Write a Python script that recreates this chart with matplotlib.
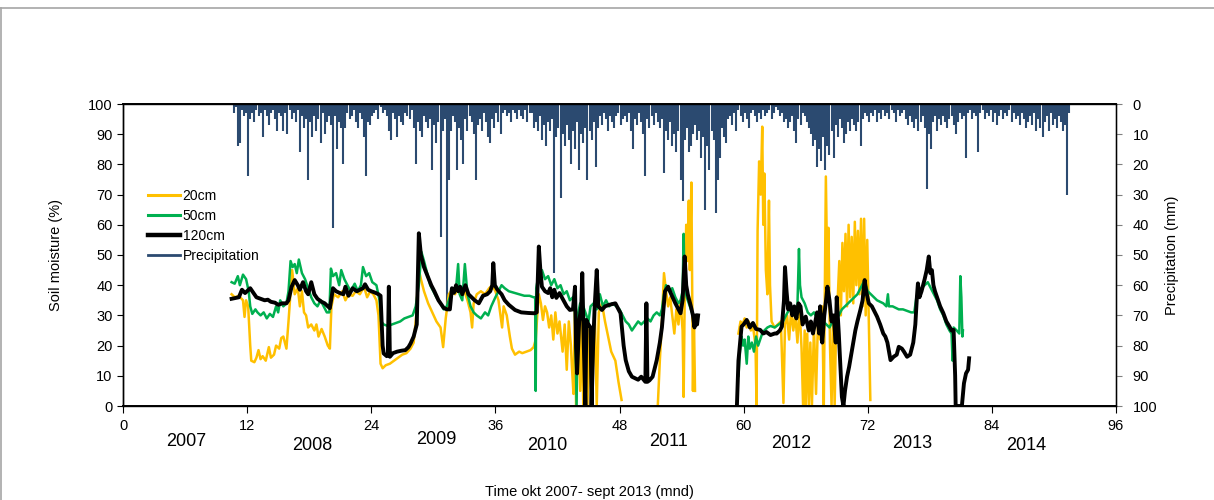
import numpy as np
import matplotlib
matplotlib.use("Agg")
import matplotlib.pyplot as plt
from matplotlib.lines import Line2D

plt.rcParams['font.family'] = ['Liberation Sans', 'DejaVu Sans']

nan = np.nan

# soil moisture (%), (month, value)
sm20 = [(10.5, 37), (10.8, 36), (11.2, 36.5), (11.6, 35), (11.75, 29.5), (11.9, 35), (12.1, 33),
        (12.3, 20), (12.4, 15), (12.7, 14.5), (12.9, 16), (13.1, 18.5), (13.3, 15.5), (13.5, 16.5),
        (13.8, 15), (14.1, 19.5), (14.3, 16), (14.6, 17), (14.8, 20), (15.1, 19), (15.3, 22.5),
        (15.5, 23), (15.8, 19), (16.0, 28), (16.2, 38), (16.35, 45), (16.6, 37), (16.9, 39),
        (17.1, 33), (17.3, 38), (17.5, 31), (17.7, 30), (17.9, 26), (18.2, 27), (18.5, 25),
        (18.7, 27), (18.9, 23), (19.2, 25.5), (19.5, 23), (19.8, 20), (20.0, 19), (20.15, 33),
        (20.4, 37), (20.8, 36), (21.2, 38), (21.5, 35), (21.8, 37), (22.2, 36.5), (22.5, 38),
        (22.9, 37), (23.3, 39.5), (23.6, 36), (23.9, 38), (24.2, 37), (24.5, 35), (24.7, 30),
        (24.9, 14), (25.1, 12.5), (25.4, 13.5), (25.8, 14), (26.2, 15), (26.6, 16), (27.0, 17),
        (27.4, 17.5), (27.8, 19), (28.1, 21), (28.35, 30), (28.55, 46), (28.8, 42), (29.1, 38),
        (29.5, 34), (29.9, 31), (30.3, 28), (30.7, 26), (30.95, 19.5), (31.2, 29), (31.5, 37),
        (31.8, 38.5), (32.1, 37), (32.4, 39), (32.7, 36), (33.0, 38), (33.3, 35), (33.6, 31),
        (33.75, 26), (33.9, 34), (34.2, 37), (34.6, 38), (35.0, 37), (35.4, 39), (35.7, 40),
        (36.0, 38), (36.3, 35), (36.5, 30), (36.65, 26), (36.8, 33), (37.1, 30), (37.4, 23),
        (37.6, 19), (37.9, 17), (38.3, 18), (38.6, 17.5), (39.0, 18), (39.4, 18.5), (39.7, 19.5),
        (39.9, 22), (40.05, 30), (40.2, 37), (40.4, 34), (40.6, 28.5), (40.8, 33), (41.0, 31),
        (41.2, 26), (41.4, 30), (41.6, 22), (41.8, 31), (42.0, 24), (42.2, 28), (42.5, 18),
        (42.7, 27), (42.9, 12), (43.1, 28), (43.3, 20), (43.4, 13), (43.55, 4), (43.7, 34),
        (43.8, 0), (44.0, 27), (44.2, 5), (44.35, 32), (44.5, 0), (44.7, 28), (44.9, 0),
        (45.1, 26), (45.3, 0), (45.6, 33), (45.8, 0), (46.0, 31), (46.3, 34), (46.6, 28),
        (46.9, 23), (47.2, 18), (47.6, 15), (47.9, 8), (48.1, 4), (48.2, 2), (48.3, nan),
        (51.7, 0), (51.9, 15), (52.1, 28), (52.3, 44), (52.5, 38), (52.7, 33), (52.9, 36),
        (53.1, 30), (53.3, 24), (53.5, 32), (53.7, 27), (53.9, 35), (54.1, 25), (54.2, 3),
        (54.3, 35), (54.45, 60), (54.55, 48), (54.7, 68), (54.8, 45), (54.95, 74), (55.05, 30),
        (55.1, 5), (55.2, 28), (55.3, 5), (55.4, nan),
        (59.5, 24), (59.7, 28), (59.9, 27), (60.1, 29), (60.3, 26), (60.5, 28), (60.7, 25),
        (60.9, 26.5), (61.15, 20), (61.25, 0), (61.35, 58), (61.5, 81), (61.65, 70), (61.8, 92.5),
        (61.9, 60), (62.0, 77), (62.15, 45), (62.3, 37), (62.45, 68), (62.55, 40), (62.7, 28),
        (63.0, 26), (63.3, 27), (63.6, 28), (63.85, 1), (64.0, 27), (64.2, 30), (64.4, 22),
        (64.6, 32), (64.8, 25), (65.0, 30), (65.2, 21), (65.4, 33), (65.6, 19), (65.75, 0),
        (65.9, 25), (66.0, 0), (66.15, 24), (66.3, 0), (66.45, 21), (66.6, 0), (66.8, 26),
        (67.0, 4), (67.2, 30), (67.4, 22), (67.6, 33), (67.75, 0), (67.95, 76), (68.1, 40),
        (68.2, 59), (68.35, 20), (68.5, 0), (68.65, 30), (68.8, 0), (68.95, 29), (69.1, 36),
        (69.25, 48), (69.4, 30), (69.55, 54), (69.7, 38), (69.85, 57), (70.0, 33), (70.15, 60),
        (70.3, 36), (70.45, 56), (70.6, 34), (70.75, 61), (70.9, 40), (71.05, 58), (71.2, 37),
        (71.35, 62), (71.5, 33), (71.65, 62), (71.8, 30), (71.95, 55), (72.1, 28), (72.25, 2)]

sm50 = [(10.5, 41), (10.8, 40.5), (11.1, 43), (11.3, 40), (11.6, 43.5), (11.9, 42), (12.15, 38),
        (12.3, 33), (12.5, 30.5), (12.8, 32), (13.0, 31), (13.3, 30), (13.6, 31), (13.9, 29),
        (14.2, 30.5), (14.5, 29.5), (14.8, 33), (15.0, 31), (15.2, 35), (15.5, 33), (15.8, 34),
        (16.0, 38), (16.2, 48), (16.4, 46), (16.6, 47), (16.8, 44), (17.0, 48.5), (17.3, 44),
        (17.6, 42), (17.9, 39), (18.2, 36), (18.5, 34), (18.8, 33), (19.1, 35), (19.4, 33),
        (19.7, 31), (19.95, 31), (20.1, 45.5), (20.3, 43), (20.6, 44), (20.9, 40), (21.1, 45),
        (21.4, 42), (21.7, 40), (22.0, 38), (22.4, 40.5), (22.7, 38), (23.0, 40), (23.2, 46),
        (23.5, 43), (23.8, 44), (24.1, 41), (24.5, 40), (24.8, 35), (24.95, 28), (25.2, 27),
        (25.6, 26.5), (26.0, 27), (26.4, 27.5), (26.8, 28), (27.2, 29), (27.6, 29.5), (28.0, 30),
        (28.3, 33), (28.6, 40), (28.85, 51), (29.1, 48), (29.4, 44), (29.7, 40), (30.0, 38),
        (30.3, 36), (30.7, 34), (31.0, 32), (31.3, 33), (31.6, 36), (31.9, 38), (32.2, 39),
        (32.4, 47), (32.55, 37), (32.8, 35), (33.05, 47), (33.3, 37), (33.6, 33), (33.9, 31),
        (34.2, 30), (34.6, 29), (35.0, 31), (35.3, 30), (35.6, 33), (36.0, 36), (36.3, 38),
        (36.6, 40), (36.9, 39), (37.3, 38), (37.8, 37.5), (38.3, 37), (38.8, 36.5), (39.3, 36.5),
        (39.7, 36), (39.85, 36), (39.9, 5), (39.95, 39), (40.2, 44), (40.5, 45), (40.8, 42),
        (41.1, 43), (41.4, 40), (41.7, 42), (42.0, 39), (42.3, 40), (42.6, 37), (42.9, 38),
        (43.2, 35), (43.5, 36), (43.7, 31), (43.85, 0), (43.95, 30), (44.2, 34), (44.5, 33),
        (44.8, 30), (45.0, 28), (45.2, 33), (45.5, 34), (45.8, 32), (46.1, 37), (46.4, 33),
        (46.7, 35), (47.0, 33), (47.3, 34), (47.7, 33), (48.0, 32), (48.3, 30), (48.6, 28),
        (48.9, 27), (49.2, 25), (49.5, 26.5), (49.8, 28), (50.1, 27), (50.4, 28), (50.7, 29),
        (51.0, 28), (51.3, 30), (51.6, 31), (51.9, 30), (52.1, 32), (52.3, 37), (52.5, 40),
        (52.8, 38), (53.1, 39), (53.4, 36), (53.7, 34), (53.9, 35), (54.1, 38), (54.2, 57),
        (54.3, 39), (54.5, 36), (54.8, 33), (55.0, 31), (55.2, 29), (55.3, nan),
        (59.5, 10), (59.65, 18), (59.8, 23), (59.95, 20), (60.1, 22), (60.3, 14), (60.45, 23),
        (60.6, 19), (60.8, 21), (61.0, 18), (61.2, 23), (61.4, 20), (61.6, 22), (61.8, 24),
        (62.0, 25), (62.3, 26), (62.6, 26.5), (63.0, 26), (63.4, 27), (63.8, 28), (64.1, 30),
        (64.4, 32), (64.7, 31), (65.0, 30), (65.2, 33), (65.35, 52), (65.45, 40), (65.6, 36),
        (65.9, 34), (66.2, 31), (66.5, 30), (66.8, 31), (67.1, 29), (67.4, 30), (67.7, 28),
        (68.0, 27), (68.3, 26), (68.6, 28), (68.9, 29), (69.2, 30), (69.5, 32), (69.8, 33),
        (70.1, 34), (70.4, 35), (70.7, 36), (71.0, 37), (71.3, 39), (71.6, 41), (71.8, 40),
        (72.0, 38), (72.3, 37), (72.6, 36), (72.9, 35), (73.2, 34.5), (73.5, 34), (73.8, 33),
        (73.95, 37), (74.05, 33), (74.4, 33), (74.7, 32.5), (75.0, 32), (75.4, 32), (75.8, 31.5),
        (76.2, 31), (76.5, 31), (76.7, 36), (76.9, 38), (77.2, 39), (77.5, 40), (77.8, 41),
        (78.1, 39), (78.4, 37), (78.7, 35), (79.0, 32), (79.3, 30), (79.6, 27), (79.9, 25),
        (80.1, 24), (80.2, 15), (80.3, 26), (80.6, 25), (80.85, 24), (80.95, 43), (81.05, 36),
        (81.15, 23), (81.2, 25)]

sm120 = [(10.5, 35.5), (10.8, 35.7), (11.2, 36), (11.5, 38.5), (11.8, 37.4), (12.3, 39), (12.6, 37.5),
         (12.9, 36), (13.3, 35.5), (13.7, 35), (14.0, 35.2), (14.3, 34.5), (14.7, 34.2), (15.0, 33.5),
         (15.4, 34), (15.8, 34), (16.0, 35), (16.3, 39.5), (16.6, 41.7), (16.9, 40), (17.1, 38.5),
         (17.4, 41), (17.7, 38), (17.9, 37), (18.2, 41), (18.5, 37), (18.8, 35.5), (19.2, 34.5),
         (19.5, 34), (19.8, 33), (20.0, 32.4), (20.3, 39), (20.6, 38), (20.9, 37.5), (21.3, 37),
         (21.5, 39.5), (21.8, 36.5), (22.2, 39), (22.6, 38), (22.9, 38.5), (23.2, 39), (23.4, 40.3),
         (23.7, 38.5), (24.0, 38), (24.4, 37.5), (24.7, 37), (24.9, 36.5), (25.1, 20), (25.2, 17.4),
         (25.5, 16.5), (25.6, 17), (25.7, 39.5), (25.8, 16.3), (26.1, 17.5), (26.5, 18), (26.9, 18.3),
         (27.3, 18.5), (27.6, 19.5), (27.8, 20.7), (28.1, 23), (28.4, 27), (28.6, 57.2), (28.8, 50),
         (29.1, 46), (29.4, 43.4), (29.8, 40), (30.1, 38), (30.5, 35), (30.7, 34), (31.0, 32.5),
         (31.3, 32), (31.6, 32), (31.8, 39), (32.0, 37.5), (32.2, 40), (32.4, 38), (32.6, 39.5),
         (32.8, 37), (33.1, 40), (33.4, 37), (33.7, 36), (34.0, 35), (34.4, 34), (34.8, 36.5),
         (35.2, 37), (35.5, 38), (35.7, 40), (35.8, 47.3), (35.95, 40), (36.2, 38.5), (36.6, 37),
         (36.9, 35), (37.3, 33.5), (37.9, 31.8), (38.5, 31), (39.2, 30.8), (39.8, 30.7), (40.0, 31),
         (40.2, 52.8), (40.35, 45), (40.5, 39.5), (40.8, 38), (41.1, 37.4), (41.3, 39), (41.5, 36),
         (41.7, 38.5), (41.9, 35.8), (42.2, 37.4), (42.5, 35.5), (42.9, 33), (43.2, 31.8), (43.5, 32),
         (43.7, 39.5), (43.8, 19.6), (43.9, 10.8), (44.1, 28), (44.3, 33), (44.4, 44), (44.55, 20),
         (44.7, 0), (44.8, 28.5), (45.0, 27), (45.2, 26), (45.3, 0), (45.45, 20), (45.6, 33),
         (45.8, 45), (45.95, 33), (46.3, 31.8), (46.6, 33), (47.0, 33.5), (47.6, 34), (48.1, 30.7),
         (48.4, 20), (48.6, 15.2), (48.9, 11.5), (49.2, 9.7), (49.5, 9.2), (49.8, 8.7), (50.1, 9.7),
         (50.5, 8), (50.6, 34), (50.7, 8), (50.9, 8.5), (51.2, 9.7), (51.6, 15.2), (51.9, 21),
         (52.1, 26), (52.4, 38), (52.7, 39.5), (53.0, 37), (53.4, 34), (53.7, 32), (53.9, 30.7),
         (54.1, 35), (54.3, 49.5), (54.45, 40), (54.6, 37), (54.9, 33), (55.1, 30), (55.25, 26),
         (55.35, 30), (55.5, 27), (55.6, 30), (55.7, nan),
         (59.35, 0), (59.5, 15), (59.8, 26.3), (60.0, 27), (60.3, 28.5), (60.6, 26), (60.9, 27.5),
         (61.2, 25.5), (61.6, 25.2), (61.9, 24), (62.2, 24.5), (62.6, 23.5), (63.0, 24), (63.2, 24),
         (63.5, 25), (63.7, 26.3), (63.9, 35), (64.0, 46), (64.15, 38), (64.3, 32), (64.5, 34),
         (64.7, 30), (64.9, 33), (65.1, 29), (65.3, 34), (65.5, 33), (65.7, 27), (66.0, 29.6),
         (66.3, 25), (66.5, 28), (66.7, 24), (66.9, 27.4), (67.1, 31), (67.3, 24), (67.4, 33),
         (67.6, 21), (67.8, 30), (68.0, 36), (68.1, 39.5), (68.3, 35), (68.5, 28), (68.7, 30),
         (68.9, 21), (69.0, 36), (69.2, 24), (69.4, 10), (69.5, 3), (69.65, 0), (69.8, 5),
         (70.0, 9.7), (70.2, 13), (70.4, 17), (70.6, 21), (70.8, 25), (71.0, 28), (71.3, 32),
         (71.5, 35), (71.7, 41.7), (71.85, 38), (72.1, 34), (72.4, 33), (72.7, 31), (72.9, 29.6),
         (73.2, 27), (73.5, 24), (73.7, 23), (73.9, 21), (74.1, 17), (74.2, 15.2), (74.5, 16.3),
         (74.8, 17), (75.0, 19.6), (75.3, 19), (75.5, 18), (75.8, 16.3), (76.1, 17), (76.4, 21),
         (76.6, 27), (76.75, 36), (76.85, 40.6), (77.0, 36), (77.2, 38), (77.5, 42), (77.7, 45),
         (77.9, 49.5), (78.05, 44), (78.2, 45), (78.35, 40), (78.5, 38), (78.7, 36), (79.0, 33),
         (79.3, 30.8), (79.6, 28), (79.9, 26.3), (80.1, 25), (80.3, 25.2), (80.45, 10), (80.5, 0),
         (80.8, 0), (81.1, 0), (81.3, 7.5), (81.5, 10.8), (81.7, 12), (81.8, 15.8)]

# precipitation (mm), one value every 0.2 month starting at month 10.5, one row per month
precip_start = 10.5
precip_rows = [
    [0, 3, 1, 14, 13], [2, 4, 3, 24, 5], [3, 6, 2, 4, 3], [11, 2, 4, 7, 3], [2, 5, 9, 3, 4],
    [9, 3, 10, 2, 5], [3, 6, 2, 16, 4], [8, 5, 25, 6, 11], [4, 9, 5, 13, 3], [10, 6, 4, 7, 41],
    [4, 15, 6, 8, 20], [8, 3, 5, 4, 2], [6, 8, 3, 5, 11], [24, 6, 7, 4, 3], [2, 5, 1, 3, 2],
    [4, 9, 12, 3, 5], [11, 4, 6, 7, 3], [4, 5, 2, 8, 20], [6, 9, 11, 4, 6], [8, 5, 22, 7, 13],
    [6, 44, 9, 5, 68], [25, 9, 4, 6, 22], [8, 12, 20, 5, 9], [4, 6, 10, 25, 7], [5, 9, 3, 6, 11],
    [13, 5, 8, 3, 6], [10, 3, 2, 4, 3], [6, 2, 3, 5, 2], [4, 5, 2, 6, 3], [3, 8, 6, 9, 4],
    [12, 7, 14, 6, 9], [5, 56, 11, 8, 31], [10, 14, 7, 12, 20], [9, 15, 6, 22, 10], [13, 8, 25, 9, 12],
    [6, 21, 8, 4, 7], [3, 5, 9, 4, 6], [8, 4, 3, 7, 5], [4, 6, 3, 9, 15], [5, 7, 3, 6, 10],
    [24, 5, 8, 4, 7], [3, 6, 8, 5, 23], [9, 12, 6, 14, 10], [16, 9, 25, 32, 12], [8, 16, 14, 10, 7],
    [12, 9, 18, 11, 35], [14, 22, 9, 12, 36], [25, 18, 8, 11, 13], [5, 4, 7, 3, 9], [2, 4, 6, 3, 5],
    [8, 3, 2, 4, 6], [3, 5, 2, 4, 3], [2, 5, 3, 1, 2], [4, 3, 6, 5, 8], [6, 4, 9, 13, 5],
    [7, 3, 4, 6, 8], [10, 14, 12, 21, 15], [19, 11, 22, 14, 17], [9, 18, 7, 11, 5], [8, 13, 10, 6, 9],
    [5, 7, 9, 6, 14], [5, 3, 4, 6, 3], [4, 2, 6, 3, 5], [2, 4, 3, 5, 2], [3, 6, 2, 4, 3],
    [2, 5, 7, 4, 6], [8, 5, 9, 6, 4], [8, 28, 10, 15, 6], [4, 9, 5, 7, 4], [6, 8, 5, 4, 7],
    [10, 6, 3, 5, 4], [18, 3, 2, 5, 3], [4, 16, 3, 2, 5], [3, 4, 2, 6, 3], [7, 4, 2, 5, 3],
    [4, 2, 6, 3, 5], [4, 7, 3, 5, 8], [6, 4, 7, 3, 9], [5, 8, 11, 6, 4], [9, 3, 7, 5, 8],
    [4, 6, 9, 7, 30], [3]]

month_ticks = np.arange(0, 97, 12)
year_labels = ['2007', '2008', '2009', '2010', '2011', '2012', '2013', '2014']
year_pos = [(186, 441), (312, 445), (436, 440), (547, 445), (669, 441), (791, 444), (912, 444), (1026, 446)]

m20, v20 = np.array(sm20).T
m50, v50 = np.array(sm50).T
m120, v120 = np.array(sm120).T
pv = np.array([v for row in precip_rows for v in row], dtype=float)
pm = precip_start + 0.2 * np.arange(len(pv))

W, H = 1214, 500
fig = plt.figure(figsize=(W / 100, H / 100), dpi=100)
x0, x1, y0, y1 = 123, 1116, 104, 406
ax = fig.add_axes([x0 / W, 1 - y1 / H, (x1 - x0) / W, (y1 - y0) / H])
ax2 = ax.twinx()

c20, c50, c120, cp = '#FFC000', '#00B050', '#000000', '#2B4A70'

ax2.vlines(pm, 0, pv, color=cp, lw=1.5)
ax2.set_ylim(100, 0)
ax2.set_yticks(np.arange(0, 101, 10))
ax2.set_ylabel('Precipitation (mm)', fontsize=10.5)
ax2.yaxis.set_label_coords(1.049, 0.5)

ax.plot(m20, v20, color=c20, lw=1.8)
ax.plot(m50, v50, color=c50, lw=1.8)
ax.plot(m120, v120, color=c120, lw=2.8)
ax.set_zorder(ax2.get_zorder() + 1)
ax.patch.set_visible(False)

ax.set_xlim(0, 96)
ax.set_ylim(0, 100)
ax.set_xticks(month_ticks)
ax.set_yticks(np.arange(0, 101, 10))
ax.set_ylabel('Soil moisture (%)', fontsize=10.5)
ax.yaxis.set_label_coords(-0.06, 0.5)
ax.set_xlabel('Time okt 2007- sept 2013 (mnd)', fontsize=10.5)
ax.xaxis.set_label_coords(0.47, -0.262)

for a in (ax, ax2):
    a.tick_params(labelsize=10.5, length=4, width=0.8)
    for s in a.spines.values():
        s.set_linewidth(1.0)
ax.tick_params(axis='x', length=5, pad=4)
ax2.spines['right'].set_color('#808080')
ax2.tick_params(axis='y', colors='#808080', labelcolor='black', pad=8)
ax.spines['bottom'].set_linewidth(1.4)
ax2.spines['top'].set_linewidth(1.4)

handles = [Line2D([], [], color=c20, lw=2.2), Line2D([], [], color=c50, lw=2.2),
           Line2D([], [], color=c120, lw=3.2), Line2D([], [], color=cp, lw=2.0)]
ax.legend(handles, ['20cm', '50cm', '120cm', 'Precipitation'], loc='upper left',
          bbox_to_anchor=(0.025, 0.72), frameon=False, fontsize=10, borderpad=0,
          borderaxespad=0, handlelength=2.3, handletextpad=0.2, labelspacing=0.45)

for lab, (px, py) in zip(year_labels, year_pos):
    fig.text(px / W, 1 - py / H, lab, fontsize=13, ha='center', va='center')

fig.add_artist(Line2D([0, 1], [1 - 8 / H, 1 - 8 / H], color='#A6A6A6', lw=1.2))
fig.add_artist(Line2D([1.5 / W, 1.5 / W], [0, 1 - 8 / H], color='#A6A6A6', lw=1.2))

fig.savefig('out.png', dpi=100)
